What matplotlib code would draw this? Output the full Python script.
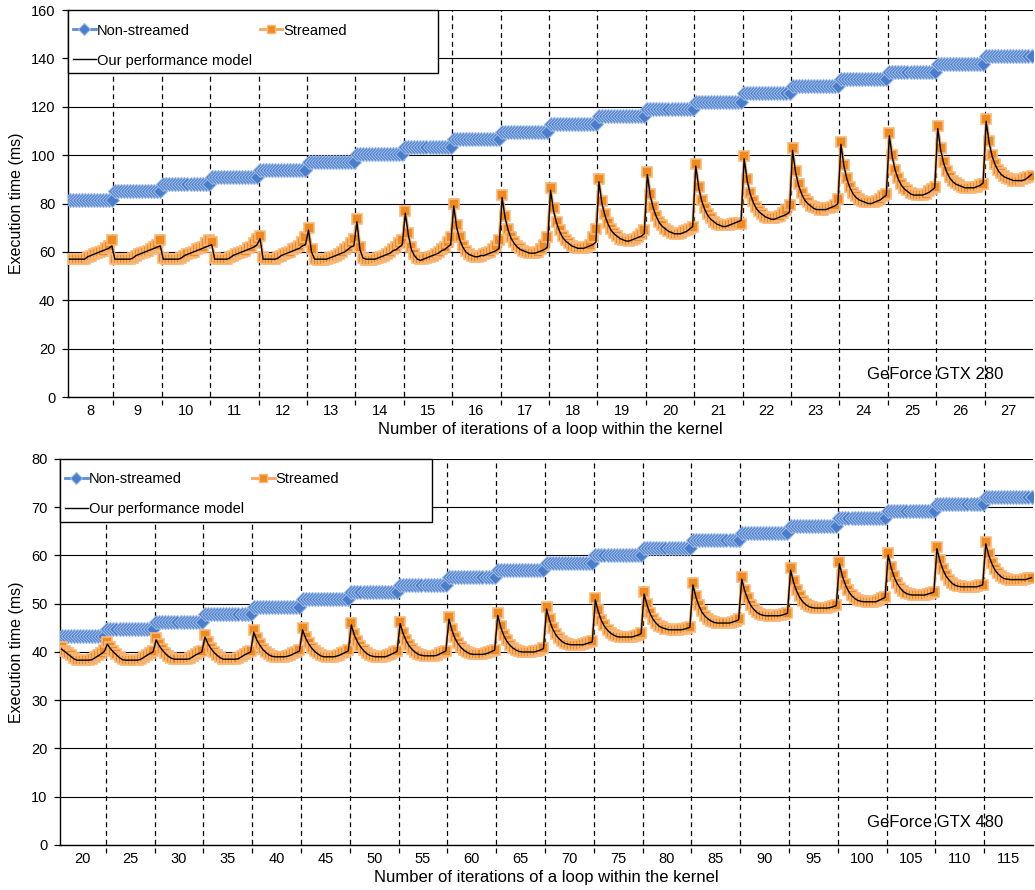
import matplotlib
matplotlib.use("Agg")
import matplotlib.pyplot as plt
from matplotlib.lines import Line2D
from matplotlib.patches import Rectangle
import numpy as np

plt.rcParams['font.family'] = ['Liberation Sans', 'DejaVu Sans']

# ---------------- data ----------------
top_labels = ['8', '9', '10', '11', '12', '13', '14', '15', '16', '17',
              '18', '19', '20', '21', '22', '23', '24', '25', '26', '27']
bot_labels = ['20', '25', '30', '35', '40', '45', '50', '55', '60', '65',
              '70', '75', '80', '85', '90', '95', '100', '105', '110', '115']

top_nonstreamed = [81.5, 85, 88, 91, 94, 97, 100.5, 103.5, 106.5, 109.5,
                   113, 116, 119, 122, 125.5, 128.5, 131.5, 134.5, 137.5, 141]
bot_nonstreamed = [43.3, 44.8, 46.2, 47.8, 49.3, 50.9, 52.4, 53.9, 55.5, 57,
                   58.5, 60.1, 61.5, 63.2, 64.7, 66.2, 67.7, 69.2, 70.7, 72.1]

top_streamed = [
    [57, 57, 57, 57, 57, 57, 58, 58.5, 59, 59.5, 60, 60.5, 61.5, 62.5, 65],
    [57, 57, 57, 57, 57, 57, 57.5, 58.5, 59, 59.5, 60, 60.5, 61, 62, 63, 65],
    [57.5, 57, 57, 57, 57, 57, 57.5, 58.5, 59, 59.5, 60, 61, 61.5, 62, 63.5, 65],
    [64, 57.5, 57, 57, 57, 57, 58, 58.5, 59, 59.5, 60, 60.5, 61.5, 62, 63.5, 65.5],
    [66.5, 58, 57, 57, 57, 57, 58, 58.5, 59, 59.5, 60, 61, 61.5, 62.5, 64, 66],
    [70, 61, 57, 56.5, 56.5, 56.5, 57, 57.5, 58, 58.5, 59, 60, 61, 62, 63.5, 65.5],
    [73.5, 62, 57.5, 56.5, 56.5, 56.5, 57, 57.5, 58, 58.5, 59, 60, 61, 62, 63.5, 65],
    [77, 68, 62, 59, 57.5, 57, 57, 57.5, 58, 58.5, 59, 60, 61, 62, 64, 66],
    [80, 71, 66, 62.5, 60.5, 59, 58.5, 58, 58, 58.5, 59, 59.5, 60, 61, 62.5, 65],
    [83.5, 75, 69.5, 66, 64, 62.5, 61.5, 60.5, 60, 59.5, 59.5, 59.5, 60, 61, 63, 66],
    [86.5, 78, 72.5, 69, 66.5, 65, 63.5, 62.5, 62, 61.5, 61.5, 61.5, 62, 63, 66, 69.5],
    [90, 81, 75.5, 72, 69.5, 68, 66.5, 65.5, 65, 65, 64.5, 65, 65.5, 66, 67.5, 69],
    [93, 84, 78.5, 75, 72.5, 71, 69.5, 68.5, 68, 67.5, 67.5, 68, 68.5, 69, 69.5, 70.5],
    [96.5, 87, 81.5, 78, 75.5, 74, 72.5, 71.5, 71, 71, 71, 71, 71.5, 72, 72, 71.5],
    [99.5, 90, 84.5, 81, 78.5, 77, 75.5, 74.5, 74, 74, 74, 74.5, 75, 76, 77.5, 79.5],
    [103, 93.5, 88, 84.5, 82, 80.5, 79, 78.5, 78, 77.5, 77.5, 78, 78, 78.5, 79.5, 82],
    [105.5, 96, 90.5, 87, 84.5, 83, 82, 81, 80.5, 80.5, 80.5, 80.5, 81, 82, 83, 84],
    [109, 100, 94, 90.5, 88, 86.5, 85.5, 84.5, 84, 83.5, 83.5, 83.5, 84, 85, 86, 87],
    [112, 103, 97, 93.5, 91, 89.5, 88.5, 87.5, 87, 86.5, 86.5, 86.5, 87, 87, 87.5, 88],
    [115, 106, 100, 96.5, 94, 92.5, 91.5, 90.5, 90, 89.5, 89.5, 89.5, 90, 90.5, 91, 91.5],
]

top_model = [
    [57, 57, 57, 57, 57, 57, 58, 58.5, 59, 59.5, 60, 60.5, 61, 61.5, 62.5],
    [57, 57, 57, 57, 57, 57, 57.5, 58.5, 59, 59.5, 60, 60.5, 61, 61.5, 62, 62.5],
    [57, 57, 57, 57, 57, 57, 57.5, 58.5, 59, 59.5, 60, 60.5, 61, 61.5, 62, 62.5],
    [63, 57, 57, 57, 57, 57, 57.5, 58.5, 59, 59.5, 60, 60.5, 61, 61.5, 62, 63],
    [65.5, 57, 57, 57, 57, 57, 57.5, 58.5, 59, 59.5, 60, 60.5, 61, 61.5, 62.5, 63],
    [69, 60, 57, 57, 57, 57, 57, 57.5, 58, 58.5, 59, 59.5, 60, 61, 62, 62.5],
    [72.5, 61, 57.5, 57, 57, 57, 57, 57.5, 58, 58.5, 59, 59.5, 60.5, 61, 62, 63],
    [76, 67, 61, 58.5, 57, 56.5, 57, 57.5, 58, 58.5, 59, 59.5, 60.5, 61, 62, 63],
    [79, 70, 65, 62, 60, 59, 58.5, 58, 58, 58.5, 58.5, 59, 59.5, 60, 60.5, 61.5],
    [82.5, 74, 69, 65.5, 63.5, 62, 61, 60.5, 60, 59.5, 59.5, 59.5, 60, 60.5, 61, 62],
    [85.5, 77, 72, 68.5, 66, 64.5, 63.5, 62.5, 62, 61.5, 61.5, 61.5, 62, 62.5, 63, 64],
    [89, 80, 75, 71.5, 69, 67.5, 66.5, 65.5, 65, 64.5, 64.5, 65, 65.5, 66, 66.5, 67.5],
    [92, 83, 78, 74.5, 72, 70.5, 69.5, 68.5, 68, 67.5, 67.5, 67.5, 68, 68.5, 69.5, 70.5],
    [95.5, 86.5, 81, 77.5, 75, 73.5, 72.5, 71.5, 71, 70.5, 70.5, 71, 71.5, 72, 72.5, 73],
    [98.5, 89.5, 84, 80.5, 78, 76.5, 75.5, 74.5, 74, 73.5, 73.5, 74, 74.5, 75, 75.5, 76.5],
    [102, 93, 87.5, 84, 81.5, 80, 79, 78, 77.5, 77.5, 77.5, 77.5, 78, 78.5, 79, 80],
    [104.5, 95.5, 90, 86.5, 84, 82.5, 81.5, 81, 80.5, 80, 80, 80.5, 81, 81.5, 82.5, 83.5],
    [108, 99, 93.5, 90, 87.5, 86, 85, 84, 83.5, 83.5, 83.5, 83.5, 84, 84.5, 85.5, 86.5],
    [111, 102, 96.5, 93, 90.5, 89, 88, 87.5, 87, 86.5, 86.5, 86.5, 86.5, 87, 87.5, 88.5],
    [114, 105, 99.5, 96, 93.5, 92, 91, 90.5, 90, 89.5, 89.5, 89.5, 89.5, 90, 91, 92],
]

bot_streamed = [
    [41, 40.3, 39.8, 39.3, 38.8, 38.4, 38.3, 38.3, 38.3, 38.3, 38.5, 38.9, 39.3, 39.8, 40.4],
    [42, 41, 40.2, 39.5, 38.9, 38.5, 38.3, 38.3, 38.3, 38.3, 38.3, 38.6, 39, 39.4, 39.8, 40.2],
    [42.9, 41.6, 40.6, 39.8, 39.2, 38.8, 38.5, 38.5, 38.5, 38.5, 38.5, 38.7, 39.1, 39.5, 39.9, 40.2],
    [43.5, 42, 40.9, 40, 39.4, 38.9, 38.6, 38.5, 38.5, 38.5, 38.5, 38.7, 39.1, 39.5, 39.9, 40.2],
    [44.5, 42.8, 41.6, 40.7, 40, 39.5, 39.2, 39, 39, 39, 39, 39.1, 39.4, 39.7, 40, 40.4],
    [45, 43.2, 41.9, 40.9, 40.2, 39.7, 39.3, 39.1, 39, 39, 39, 39.1, 39.4, 39.7, 40, 40.4],
    [46, 43.8, 42.3, 41.2, 40.4, 39.8, 39.4, 39.2, 39, 39, 39, 39.1, 39.3, 39.6, 39.9, 40.3],
    [46.3, 44, 42.5, 41.4, 40.6, 40, 39.6, 39.4, 39.2, 39.2, 39.2, 39.2, 39.4, 39.7, 40, 40.3],
    [47.2, 44.7, 43, 41.8, 41, 40.4, 40, 39.7, 39.5, 39.5, 39.5, 39.5, 39.7, 39.9, 40.2, 40.5],
    [48, 45.4, 43.6, 42.4, 41.5, 40.9, 40.5, 40.2, 40, 40, 40, 40, 40.1, 40.3, 40.5, 40.8],
    [49.3, 46.8, 45, 43.8, 42.9, 42.3, 41.9, 41.7, 41.5, 41.5, 41.5, 41.5, 41.6, 41.8, 42, 42.2],
    [51.2, 48.6, 46.7, 45.5, 44.6, 44, 43.6, 43.3, 43.2, 43.1, 43.1, 43.1, 43.2, 43.4, 43.6, 43.9],
    [52.4, 49.9, 48.1, 46.9, 46, 45.4, 45.1, 44.8, 44.7, 44.6, 44.6, 44.6, 44.7, 44.8, 45, 45.2],
    [54.3, 51.6, 49.7, 48.4, 47.5, 46.9, 46.5, 46.2, 46.1, 46, 46, 46, 46.1, 46.3, 46.5, 46.8],
    [55.5, 52.9, 51.1, 49.8, 48.9, 48.3, 47.9, 47.7, 47.6, 47.5, 47.5, 47.5, 47.6, 47.7, 47.9, 48.1],
    [57.4, 54.7, 52.8, 51.5, 50.5, 49.9, 49.5, 49.3, 49.2, 49.1, 49.1, 49.1, 49.2, 49.3, 49.5, 49.7],
    [58.7, 56, 54.1, 52.8, 51.8, 51.2, 50.8, 50.6, 50.5, 50.4, 50.4, 50.4, 50.5, 50.8, 51.1, 51.4],
    [60.5, 57.7, 55.7, 54.3, 53.3, 52.6, 52.2, 52, 51.9, 51.8, 51.8, 51.8, 51.9, 52.1, 52.3, 52.5],
    [61.8, 59.1, 57.2, 55.9, 55, 54.3, 53.9, 53.7, 53.6, 53.5, 53.5, 53.5, 53.5, 53.6, 53.8, 53.9],
    [62.8, 60.3, 58.5, 57.2, 56.3, 55.7, 55.3, 55.1, 55, 55, 55, 55, 55, 55.1, 55.3, 55.4],
]

bot_model = [
    [40.6, 40.1, 39.6, 39.1, 38.6, 38.3, 38.3, 38.3, 38.3, 38.3, 38.4, 38.8, 39.2, 39.6, 40.1],
    [41.6, 40.7, 40, 39.4, 38.8, 38.4, 38.3, 38.3, 38.3, 38.3, 38.3, 38.5, 38.9, 39.3, 39.7, 40],
    [42.5, 41.3, 40.4, 39.7, 39.1, 38.7, 38.5, 38.5, 38.5, 38.5, 38.5, 38.6, 39, 39.4, 39.7, 40],
    [43.1, 41.7, 40.7, 39.9, 39.3, 38.8, 38.5, 38.5, 38.5, 38.5, 38.5, 38.6, 39, 39.4, 39.7, 40],
    [44.1, 42.5, 41.4, 40.5, 39.9, 39.4, 39.1, 39, 39, 39, 39, 39.1, 39.3, 39.6, 39.9, 40.2],
    [44.6, 42.9, 41.7, 40.8, 40.1, 39.6, 39.2, 39, 39, 39, 39, 39.1, 39.3, 39.6, 39.9, 40.2],
    [45.6, 43.5, 42.1, 41.1, 40.3, 39.7, 39.3, 39.1, 39, 39, 39, 39, 39.2, 39.5, 39.8, 40.1],
    [45.9, 43.8, 42.3, 41.2, 40.5, 39.9, 39.5, 39.3, 39.2, 39.2, 39.2, 39.2, 39.3, 39.6, 39.9, 40.2],
    [46.8, 44.5, 42.8, 41.7, 40.9, 40.3, 39.9, 39.6, 39.5, 39.5, 39.5, 39.5, 39.6, 39.8, 40.1, 40.4],
    [47.6, 45.1, 43.4, 42.2, 41.4, 40.8, 40.4, 40.1, 40, 40, 40, 40, 40, 40.2, 40.4, 40.7],
    [48.9, 46.5, 44.8, 43.6, 42.8, 42.2, 41.8, 41.6, 41.5, 41.5, 41.5, 41.5, 41.5, 41.7, 41.9, 42.1],
    [50.8, 48.3, 46.5, 45.3, 44.5, 43.9, 43.5, 43.2, 43.1, 43.1, 43.1, 43.1, 43.1, 43.3, 43.5, 43.8],
    [52, 49.6, 47.9, 46.7, 45.9, 45.3, 45, 44.8, 44.6, 44.6, 44.6, 44.6, 44.6, 44.7, 44.9, 45.1],
    [53.9, 51.3, 49.5, 48.2, 47.4, 46.8, 46.4, 46.1, 46, 46, 46, 46, 46, 46.2, 46.4, 46.7],
    [55.1, 52.6, 50.9, 49.6, 48.8, 48.2, 47.8, 47.6, 47.5, 47.5, 47.5, 47.5, 47.5, 47.6, 47.8, 48],
    [57, 54.4, 52.6, 51.3, 50.4, 49.8, 49.4, 49.2, 49.1, 49.1, 49.1, 49.1, 49.1, 49.2, 49.4, 49.6],
    [58.3, 55.7, 53.9, 52.6, 51.7, 51.1, 50.7, 50.5, 50.4, 50.4, 50.4, 50.4, 50.4, 50.7, 51, 51.3],
    [60.1, 57.4, 55.5, 54.1, 53.2, 52.5, 52.1, 51.9, 51.8, 51.8, 51.8, 51.8, 51.8, 52, 52.2, 52.4],
    [61.4, 58.8, 57, 55.7, 54.9, 54.2, 53.8, 53.6, 53.5, 53.5, 53.5, 53.5, 53.5, 53.5, 53.7, 53.9],
    [62.4, 60, 58.3, 57, 56.2, 55.6, 55.2, 55.1, 55, 55, 55, 55, 55, 55, 55.2, 55.4],
]

GROUP = 16
BLUE_F, BLUE_E, BLUE_L = '#4A7DCB', '#9DBBE6', '#5B8ED6'
ORA_F, ORA_E, ORA_L = '#EE8A1E', '#F9B97C', '#F9A65A'
BLUE_MS, ORA_MS = 7.2, 7.4


def flatten(groups):
    xs, ys, spans = [], [], []
    for g, vals in enumerate(groups):
        start = GROUP * g + (GROUP - len(vals))
        for k, v in enumerate(vals):
            xs.append(start + k)
            ys.append(v)
        spans.append((start, start + len(vals) - 1))
    return np.array(xs), np.array(ys), spans


def draw(ax, labels, nonstreamed, streamed, model, ymax, ystep, chip, box_w):
    xs, ys, spans = flatten(streamed)
    xm, ym, _ = flatten(model)
    bx, by = [], []
    for (a, b), lvl in zip(spans, nonstreamed):
        for x in range(a, b + 1):
            bx.append(x)
            by.append(lvl)

    ax.plot(bx, by, color=BLUE_L, lw=2, marker='D', ms=BLUE_MS, mfc=BLUE_F,
            mec=BLUE_E, mew=0.8, zorder=3)
    ax.plot(xs, ys, color=ORA_L, lw=2, marker='s', ms=ORA_MS, mfc=ORA_F,
            mec=ORA_E, mew=1.2, zorder=4)
    ax.plot(xm, ym, color='black', lw=1.0, zorder=5)

    left, right = 0.5, spans[-1][1] + 0.5
    ax.set_xlim(left, right)
    ax.set_ylim(0, ymax)

    # group separators (dashed, extending a bit below the axis)
    seps = [a - 0.5 for (a, b) in spans[1:]]
    trans = ax.get_xaxis_transform()
    for s in seps:
        ax.plot([s, s], [-0.021, 1], transform=trans, clip_on=False,
                color='black', lw=0.9, ls=(0, (4, 3)), zorder=2)

    centers = []
    for g, (a, b) in enumerate(spans):
        lo = max(GROUP * g - 0.5, left)
        hi = GROUP * g + GROUP - 0.5
        centers.append((lo + hi) / 2)
    ax.set_xticks(centers)
    ax.set_xticklabels(labels, fontsize=10.5)
    ax.tick_params(axis='x', length=0, pad=5)

    ax.set_yticks(np.arange(0, ymax + 0.1, ystep))
    ax.tick_params(axis='y', direction='out', length=4, width=0.9,
                   labelsize=10.5, pad=5)
    ax.yaxis.grid(True, color='black', lw=0.8)
    ax.set_axisbelow(True)

    for sp in ['top', 'right']:
        ax.spines[sp].set_visible(False)
    for sp in ['left', 'bottom']:
        ax.spines[sp].set_linewidth(1.0)
        ax.spines[sp].set_color('black')

    ax.set_xlabel('Number of iterations of a loop within the kernel',
                  fontsize=12, labelpad=3)
    ax.set_ylabel('Execution time (ms)', fontsize=11.5, labelpad=5)

    ax.text(0.899, 0.057, chip, transform=ax.transAxes, fontsize=12,
            ha='center', va='center')

    # legend with an opaque rectangular frame
    rect = Rectangle((0, 1 - 0.163), box_w, 0.163, transform=ax.transAxes,
                     facecolor='white', edgecolor='black', lw=1.0, zorder=6,
                     clip_on=False)
    ax.add_patch(rect)
    h_ns = Line2D([], [], color=BLUE_L, lw=2, marker='D', ms=BLUE_MS - 1.5,
                  mfc=BLUE_F, mec=BLUE_E, mew=0.8)
    h_s = Line2D([], [], color=ORA_L, lw=2, marker='s', ms=ORA_MS - 1.8,
                 mfc=ORA_F, mec=ORA_E, mew=1.0)
    h_m = Line2D([], [], color='black', lw=1.0)
    leg = ax.legend([h_ns, h_m, h_s],
                    ['Non-streamed', 'Our performance model', 'Streamed'],
                    ncol=2, loc='upper left', bbox_to_anchor=(0.0, 0.978),
                    frameon=False, fontsize=10.5, handlelength=1.55,
                    handletextpad=0.08, columnspacing=0.55, labelspacing=1.1,
                    borderpad=0.34, borderaxespad=0.0, numpoints=1)
    leg.set_zorder(7)


fig = plt.figure(figsize=(10.35, 8.9), dpi=100)
ax1 = fig.add_axes([0.0657, 0.5539, 0.9324, 0.4348])
ax2 = fig.add_axes([0.0580, 0.0506, 0.9401, 0.4337])

draw(ax1, top_labels, top_nonstreamed, top_streamed, top_model, 160, 20,
     'GeForce GTX 280', 0.3834)
draw(ax2, bot_labels, bot_nonstreamed, bot_streamed, bot_model, 80, 10,
     'GeForce GTX 480', 0.3823)

fig.savefig('out.png', dpi=100)
